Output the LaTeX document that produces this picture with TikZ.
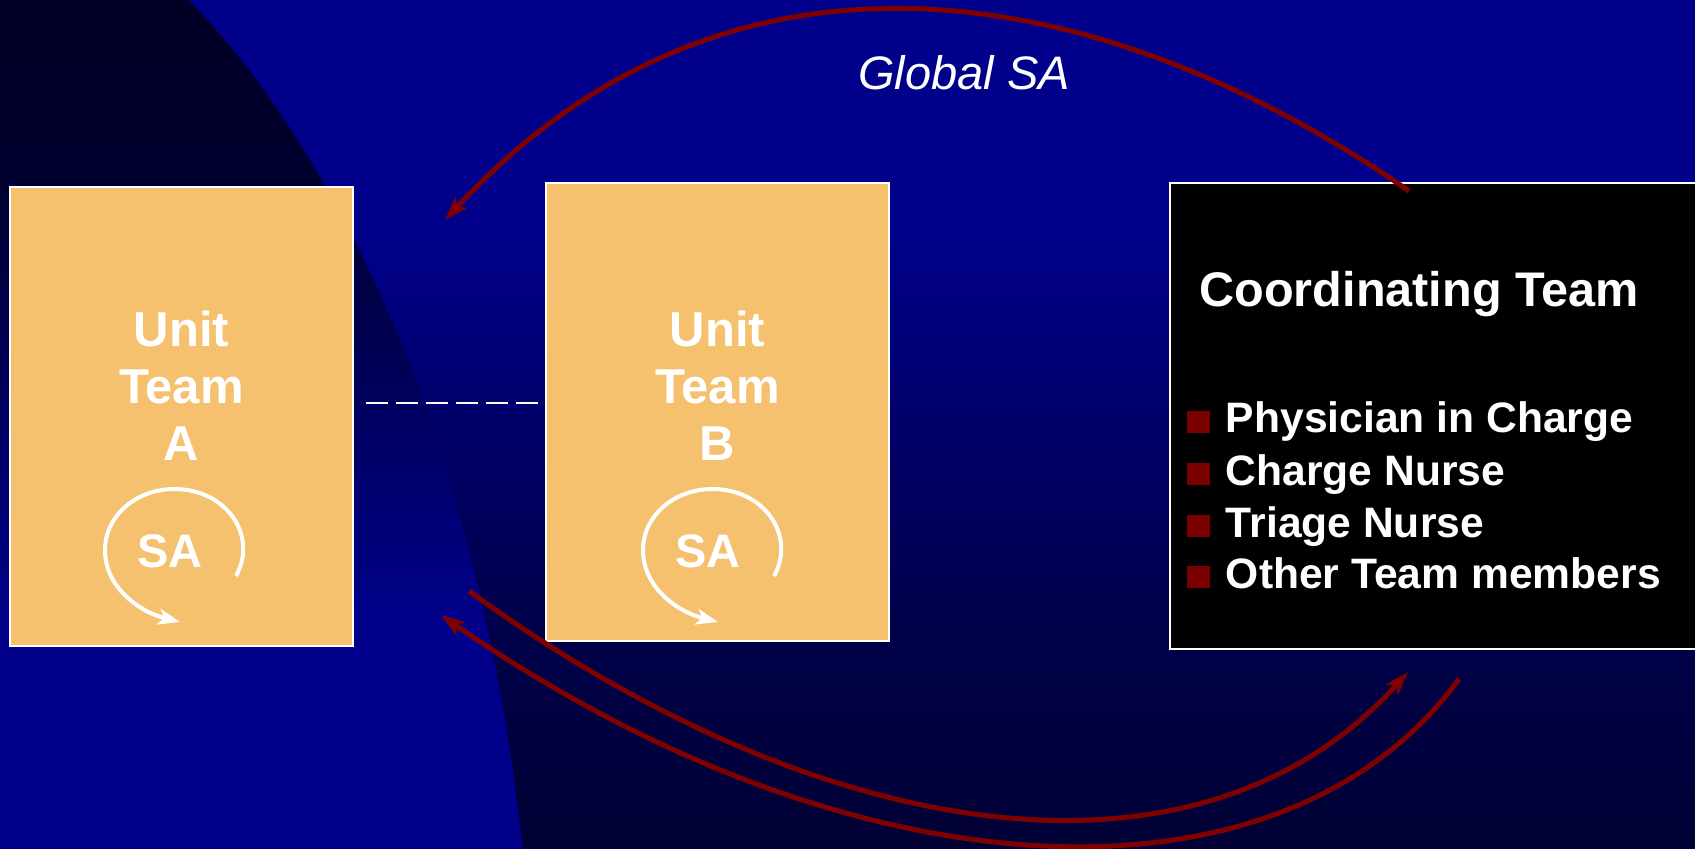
\documentclass[tikz,border=0pt]{standalone}
\usepackage{fontspec}
\setmainfont{Liberation Sans}
\usetikzlibrary{arrows.meta}
\definecolor{bgblue}{RGB}{0,0,139}
\definecolor{bgmid}{RGB}{0,0,74}
\definecolor{bgdark}{RGB}{0,0,52}
\definecolor{elmid}{RGB}{0,0,100}
\definecolor{eltoptwo}{RGB}{0,0,48}
\definecolor{eltop}{RGB}{2,0,38}
\definecolor{boxfill}{RGB}{245,193,110}
\definecolor{linkred}{RGB}{128,0,0}
\definecolor{bulletred}{RGB}{122,0,0}
\pgfdeclareverticalshading{bgshade}{100bp}{color(0bp)=(bgdark); color(25bp)=(bgdark); color(38bp)=(bgmid); color(62bp)=(bgblue); color(100bp)=(bgblue)}
\pgfdeclareverticalshading{ellshade}{100bp}{color(0bp)=(bgblue); color(38bp)=(bgblue); color(50bp)=(elmid); color(64bp)=(eltoptwo); color(75bp)=(eltop); color(100bp)=(eltop)}
\newcommand\bulletsq{{\color{bulletred}\rule{11.25pt}{11pt}}\hspace{8pt}}
\tikzset{
  unitbox/.style={draw=white, line width=1.2pt, fill=boxfill, minimum width=171.5pt, minimum height=229.5pt, inner sep=0pt},
  ctbox/.style={draw=white, line width=1.1pt, fill=black, minimum width=270pt, minimum height=233pt, inner sep=0pt},
  unittext/.style={text=white, font=\fontsize{24.5}{28.5}\selectfont\bfseries, align=center, inner sep=0pt},
  satext/.style={text=white, font=\fontsize{23.5}{28}\selectfont\bfseries, inner sep=0pt},
  cttitle/.style={text=white, font=\fontsize{24.3}{28}\selectfont\bfseries, inner sep=0pt, anchor=base west},
  ctitem/.style={text=white, font=\fontsize{21.3}{25}\selectfont\bfseries, inner sep=0pt, anchor=base west},
  gsa/.style={text=white, font=\fontsize{23.5}{28}\selectfont\itshape, inner sep=0pt, anchor=base},
  saloop/.style={draw=white, line width=2pt, -{Stealth[length=11pt,width=8pt,inset=3pt]}},
  redlink/.style={draw=linkred, line width=2.5pt, -{Stealth[length=12pt,width=8pt,inset=3pt]}},
  dashline/.style={draw=white, line width=1.2pt, dash pattern=on 11pt off 4pt},
}
\begin{document}
\begin{tikzpicture}[x=0.5pt, y=-0.5pt]
\useasboundingbox (0,0) rectangle (1695,849);
% background
\fill[shading=bgshade] (0,0) rectangle (1695,849);
\begin{scope}
  \clip (-150,1086) ellipse [x radius=685, y radius=1249];
  \fill[shading=ellshade] (0,0) rectangle (1695,849);
\end{scope}
% boxes
\node[unitbox] (A) at (181.5,416.5) {};
\node[unitbox, minimum height=229pt] (B) at (717.5,412) {};
\node[ctbox] (CT) at (1440,416) {};
% unit texts
\node[unittext] (At) at (181.5,386) {Unit\\Team\\A};
\node[unittext] (Bt) at (717.5,386) {Unit\\Team\\B};
\node[satext] (Asa) at (170,551.5) {SA};
\node[satext] (Bsa) at (708,551.5) {SA};
% SA loops
\foreach \dx in {0,538}{
  \begin{scope}[shift={(\dx,0)}]
    \draw[saloop] (236,576) .. controls (258.5,535.5) and (226,489) .. (174.5,489)
      .. controls (136,489) and (105,516) .. (105,550)
      .. controls (105,588) and (140,612) .. (180,622);
  \end{scope}
}
% dashed link
\coordinate (dS) at (366,403);
\draw[dashline] (dS) -- (dS -| B.west);
% coordinating team
\node[cttitle] (CTt) at (1199,307) {Coordinating Team};
\node[ctitem] (I1) at (1187,433) {\bulletsq Physician in Charge};
\node[ctitem] (I2) at (1187,485) {\bulletsq Charge Nurse};
\node[ctitem] (I3) at (1187,537) {\bulletsq Triage Nurse};
\node[ctitem] (I4) at (1187,588) {\bulletsq Other Team members};
% global SA
\node[gsa] (GSA) at (964,90) {Global SA};
\coordinate (gsS) at (1409,191);
\coordinate (gsE) at (445,220);
\draw[redlink] (gsS) .. controls +(-315,-218) and +(280,-303) .. (gsE);
% bottom arcs
\coordinate (c1S) at (469,591);
\coordinate (c1E) at (1408,672);
\draw[redlink] (c1S) .. controls +(356,259) and +(-207,230) .. (c1E);
\coordinate (c2S) at (1459,679);
\coordinate (c2E) at (441,615);
\draw[redlink] (c2S) .. controls +(-177,242) and +(411,285) .. (c2E);
\end{tikzpicture}
\end{document}
